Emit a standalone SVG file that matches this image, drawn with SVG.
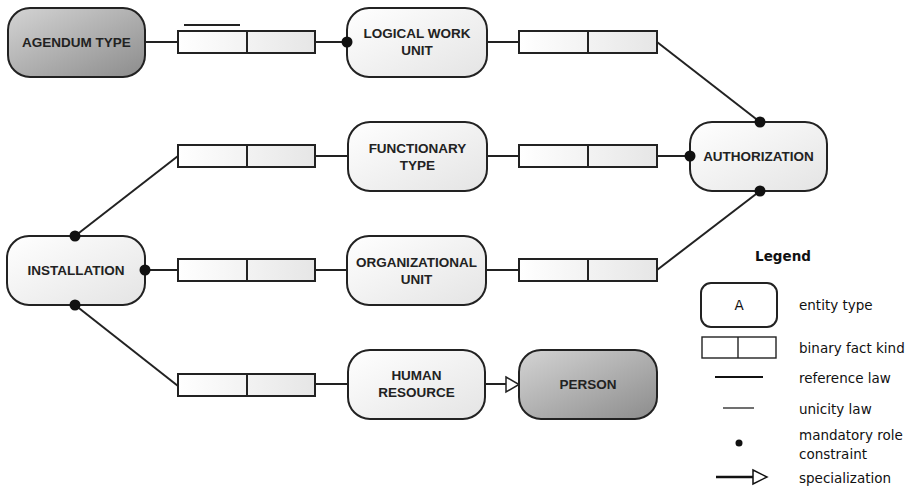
<svg xmlns="http://www.w3.org/2000/svg" width="911" height="489" viewBox="0 0 911 489">
<defs>
<linearGradient id="gl" x1="0" y1="0" x2="1" y2="1"><stop offset="0" stop-color="#ffffff"/><stop offset="1" stop-color="#e4e4e4"/></linearGradient>
<linearGradient id="gd" x1="0" y1="0" x2="1" y2="1"><stop offset="0" stop-color="#d4d4d4"/><stop offset="1" stop-color="#8c8c8c"/></linearGradient>
<linearGradient id="gf" x1="0" y1="0" x2="1" y2="0"><stop offset="0" stop-color="#ffffff"/><stop offset="1" stop-color="#e6e6e6"/></linearGradient>
</defs>
<style>
.ent{fill:url(#gl);stroke:#222;stroke-width:2}
.entd{fill:url(#gd);stroke:#222;stroke-width:2}
.fact{fill:url(#gf);stroke:#222;stroke-width:2}
.ln{stroke:#222;stroke-width:2;fill:none}
.dot{fill:#111}
.t{font-family:"Liberation Sans",Arial,sans-serif;font-weight:bold;font-size:13.5px;fill:#222;text-anchor:middle}
.lg{font-family:"DejaVu Sans",Verdana,sans-serif;font-size:13.5px;fill:#111}
.lgb{font-family:"DejaVu Sans",Verdana,sans-serif;font-size:13.5px;font-weight:bold;fill:#111;text-anchor:middle}
</style>
<rect width="911" height="489" fill="#fff"/>
<g id="connectors">
<line class="ln" x1="145" y1="42" x2="178" y2="42"/>
<line class="ln" x1="315" y1="42" x2="347" y2="42"/>
<line class="ln" x1="487" y1="42" x2="519" y2="42"/>
<line class="ln" x1="657" y1="42" x2="760" y2="122"/>
<line class="ln" x1="315" y1="156" x2="348" y2="156"/>
<line class="ln" x1="487" y1="156" x2="519" y2="156"/>
<line class="ln" x1="657" y1="156" x2="690" y2="156"/>
<line class="ln" x1="75" y1="236" x2="178" y2="156"/>
<line class="ln" x1="145" y1="270" x2="178" y2="270"/>
<line class="ln" x1="315" y1="270" x2="347" y2="270"/>
<line class="ln" x1="486" y1="270" x2="519" y2="270"/>
<line class="ln" x1="657" y1="270" x2="760" y2="191"/>
<line class="ln" x1="75" y1="305" x2="178" y2="386"/>
<line class="ln" x1="315" y1="384" x2="348" y2="384"/>
<line class="ln" x1="485" y1="384" x2="506" y2="384"/>
<polygon points="506,377 519,384.5 506,392" fill="#fff" stroke="#222" stroke-width="1.5"/>
<line x1="184" y1="25" x2="240" y2="25" stroke="#222" stroke-width="2"/>
</g>
<g id="facts">
<g id="f1"><rect class="fact" x="178" y="31" width="137" height="22"/><line class="ln" x1="247" y1="31" x2="247" y2="53"/></g>
<g id="f2"><rect class="fact" x="519" y="31" width="138" height="22"/><line class="ln" x1="588" y1="31" x2="588" y2="53"/></g>
<g id="f3"><rect class="fact" x="178" y="145" width="137" height="22"/><line class="ln" x1="247" y1="145" x2="247" y2="167"/></g>
<g id="f4"><rect class="fact" x="519" y="145" width="138" height="22"/><line class="ln" x1="588" y1="145" x2="588" y2="167"/></g>
<g id="f5"><rect class="fact" x="178" y="259" width="137" height="22"/><line class="ln" x1="247" y1="259" x2="247" y2="281"/></g>
<g id="f6"><rect class="fact" x="519" y="259" width="138" height="22"/><line class="ln" x1="588" y1="259" x2="588" y2="281"/></g>
<g id="f7"><rect class="fact" x="178" y="374" width="137" height="22"/><line class="ln" x1="247" y1="374" x2="247" y2="396"/></g>
</g>
<g id="agendum"><rect class="entd" x="8" y="8" width="137" height="69" rx="22"/><text class="t" x="76.5" y="47">AGENDUM TYPE</text></g>
<g id="lwu"><rect class="ent" x="347" y="8" width="140" height="69" rx="22"/><text class="t" x="417" y="38">LOGICAL WORK</text><text class="t" x="417" y="55">UNIT</text></g>
<g id="authorization"><rect class="ent" x="690" y="122" width="137" height="69" rx="22"/><text class="t" x="758.5" y="161">AUTHORIZATION</text></g>
<g id="functionary"><rect class="ent" x="348" y="122" width="139" height="69" rx="22"/><text class="t" x="417.5" y="153">FUNCTIONARY</text><text class="t" x="417.5" y="170">TYPE</text></g>
<g id="installation"><rect class="ent" x="7" y="236" width="138" height="69" rx="22"/><text class="t" x="76" y="275">INSTALLATION</text></g>
<g id="orgunit"><rect class="ent" x="347" y="236" width="139" height="69" rx="22"/><text class="t" x="416.5" y="267">ORGANIZATIONAL</text><text class="t" x="416.5" y="284">UNIT</text></g>
<g id="human"><rect class="ent" x="348" y="350" width="137" height="69" rx="22"/><text class="t" x="416.5" y="380">HUMAN</text><text class="t" x="416.5" y="397">RESOURCE</text></g>
<g id="person"><rect class="entd" x="519" y="350" width="138" height="69" rx="22"/><text class="t" x="588" y="389">PERSON</text></g>
<g id="dots">
<circle class="dot" cx="347" cy="42" r="5.5"/>
<circle class="dot" cx="760" cy="122" r="5.5"/>
<circle class="dot" cx="690" cy="156" r="5.5"/>
<circle class="dot" cx="760" cy="191" r="5.5"/>
<circle class="dot" cx="75" cy="236" r="5.5"/>
<circle class="dot" cx="145" cy="270" r="5.5"/>
<circle class="dot" cx="75" cy="305" r="5.5"/>
</g>
<g id="legend">
<text class="lgb" x="783" y="261">Legend</text>
<rect x="701" y="283" width="76" height="44" rx="10" fill="#fff" stroke="#222" stroke-width="2"/>
<text class="lg" x="739" y="310" text-anchor="middle">A</text>
<text class="lg" x="799" y="310">entity type</text>
<rect x="702" y="337" width="74" height="21" fill="#fff" stroke="#222" stroke-width="1.4"/>
<line x1="738" y1="337" x2="738" y2="358" stroke="#222" stroke-width="1.4"/>
<text class="lg" x="799" y="353">binary fact kind</text>
<line x1="715" y1="377" x2="763" y2="377" stroke="#111" stroke-width="2"/>
<text class="lg" x="799" y="383">reference law</text>
<line x1="723" y1="408" x2="754" y2="408" stroke="#111" stroke-width="1.2"/>
<text class="lg" x="799" y="414">unicity law</text>
<circle cx="739" cy="443" r="3.5" fill="#111"/>
<text class="lg" x="799" y="440">mandatory role</text>
<text class="lg" x="799" y="459">constraint</text>
<line x1="716" y1="477" x2="753" y2="477" stroke="#111" stroke-width="2.5"/>
<polygon points="753,470 767,477 753,484" fill="#fff" stroke="#111" stroke-width="1.5"/>
<text class="lg" x="799" y="483">specialization</text>
</g>
</svg>
